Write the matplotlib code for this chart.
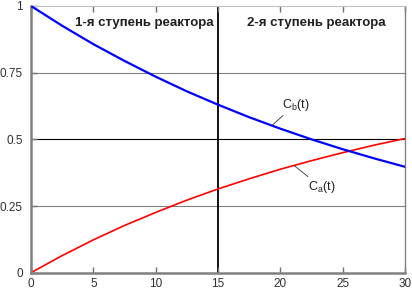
import matplotlib
matplotlib.use("Agg")
import matplotlib.pyplot as plt

# ── Data ──────────────────────────────────────────────────────────────────
t_vals  = [0, 2.5, 5, 7.5, 10, 12.5, 15, 17.5, 20, 22.5, 25, 27.5, 30]
cb_vals = [1.0, 0.926, 0.857, 0.794, 0.735, 0.680, 0.630, 0.583, 0.540, 0.500, 0.463, 0.429, 0.397]
ca_vals = [0.0, 0.064, 0.123, 0.177, 0.226, 0.272, 0.314, 0.352, 0.388, 0.420, 0.450, 0.478, 0.503]

x_ticks  = [0, 5, 10, 15, 20, 25, 30]
y_ticks  = [0, 0.25, 0.5, 0.75, 1]
y_labels = ["0", "0.25", "0.5", "0.75", "1"]

stage_split = 15
stage_labels = ["1-я ступень реактора", "2-я ступень реактора"]

plt.rcParams["font.family"] = ["Liberation Sans", "DejaVu Sans"]

fig = plt.figure(figsize=(4.12, 2.95), dpi=100)
ax = fig.add_axes([0.0752, 0.0756, 0.9078, 0.9041])

# grid lines
for yv, col in [(0.25, "#808080"), (0.5, "black"), (0.75, "#808080")]:
    ax.axhline(yv, color=col, lw=0.8, zorder=1)
ax.axvline(stage_split, color="black", lw=1.3, zorder=1)

ax.plot(t_vals, cb_vals, color="#0000ff", lw=1.6, zorder=3)
ax.plot(t_vals, ca_vals, color="#ff0000", lw=1.2, zorder=2)

ax.set_xlim(0, 30)
ax.set_ylim(0, 1)
ax.set_xticks(x_ticks)
ax.set_yticks(y_ticks)
ax.set_yticklabels(y_labels)
ax.tick_params(direction="in", length=4, width=1, color="#707070",
               labelsize=8.5, labelcolor="#303030", top=True, right=False, pad=4)
ax.tick_params(axis="y", pad=6)

for side in ["left", "bottom"]:
    ax.spines[side].set_color("#808080")
    ax.spines[side].set_linewidth(1.8)
ax.spines["right"].set_color("#808080")
ax.spines["right"].set_linewidth(1.0)
ax.spines["top"].set_color("#c0c0c0")
ax.spines["top"].set_linewidth(0.8)

# stage titles
ax.text(9.1, 0.935, stage_labels[0], ha="center", va="center",
        fontsize=9.5, fontweight="bold", color="#202020")
ax.text(22.9, 0.935, stage_labels[1], ha="center", va="center",
        fontsize=9.5, fontweight="bold", color="#202020")

# curve labels with leader lines
ax.annotate(r"C$_\mathregular{b}$(t)", xy=(19.35, 0.553), xytext=(20.1, 0.63),
            fontsize=9, ha="left", va="center", color="#202020",
            arrowprops=dict(arrowstyle="-", color="#303030", lw=0.6,
                            shrinkA=0, shrinkB=0))
ax.annotate(r"C$_\mathregular{a}$(t)", xy=(21.1, 0.402), xytext=(22.2, 0.32),
            fontsize=9, ha="left", va="center", color="#202020",
            arrowprops=dict(arrowstyle="-", color="#303030", lw=0.6,
                            shrinkA=0, shrinkB=0))

fig.savefig("out.png", dpi=100)
